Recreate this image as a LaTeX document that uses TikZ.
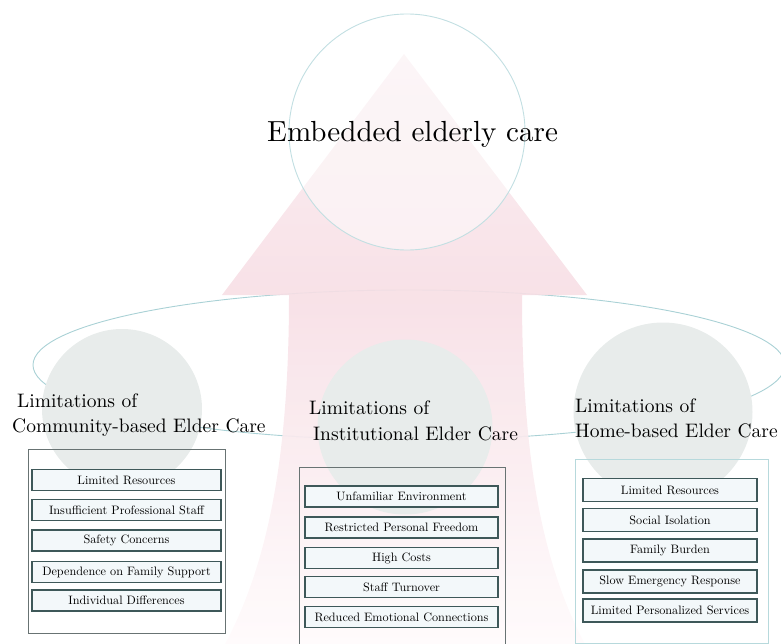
\documentclass[tikz,border=0pt]{standalone}
\usepackage{fontspec}
\usepackage{graphicx}
\usetikzlibrary{shapes.geometric}
\definecolor{ringc}{HTML}{A9D1D5}
\definecolor{bigringc}{HTML}{C2DFE2}
\definecolor{grayc}{HTML}{E8ECEB}
\definecolor{innerfill}{HTML}{F3F8FA}
\definecolor{innerdraw}{HTML}{3E5859}
\definecolor{outerdraw}{HTML}{687373}
\definecolor{outerlight}{HTML}{B7D9DC}
\definecolor{atop}{HTML}{FAEEF1}
\definecolor{amid}{HTML}{F7DFE5}
\definecolor{abot}{HTML}{FFFBFC}
\pgfdeclareverticalshading{arrowshade}{100bp}{color(0bp)=(abot); color(25bp)=(abot); color(54.5bp)=(amid); color(75bp)=(atop); color(100bp)=(atop)}
\newcommand\mytitle[1]{\scalebox{1.95}{\fontsize{10}{12}\selectfont #1}}
\newcommand\mymain[1]{\scalebox{2.91}{\fontsize{10}{12}\selectfont #1}}
\newcommand\myitem[1]{\scalebox{1.22}{\fontsize{10}{12}\selectfont #1}}
\begin{document}
\begin{tikzpicture}[x=1pt,y=-1pt,
  graycirc/.style={circle, fill=grayc, inner sep=0pt, minimum size=#1},
  itembox/.style={draw=innerdraw, line width=1.3pt, fill=innerfill, inner sep=0pt,
     minimum height=#1},
  itembox/.default=21pt,
  outerbox/.style={draw=outerdraw, line width=0.9pt, inner sep=0pt},
  title/.style={anchor=base west, inner sep=0pt}]
\useasboundingbox (0,0) rectangle (781,644);
% orbit ellipse
\node[ellipse, draw=ringc, line width=0.9pt, minimum width=752pt, minimum height=150pt, inner sep=0pt] (orbit) at (409,365) {};
% arrow
\path[shading=arrowshade, opacity=0.92] (404,54) -- (587,295) -- (522,295)
  .. controls (522,450) and (540,560) .. (585,644) -- (225,644)
  .. controls (270,560) and (289,450) .. (289,295) -- (222,295) -- cycle;
% big circle
\node[circle, draw=bigringc, line width=0.9pt, fill=white, fill opacity=0.45, draw opacity=1, minimum size=236pt, inner sep=0pt] (top) at (407,132) {};
% gray circles
\node[graycirc=160pt] (gl) at (122,409) {};
\node[graycirc=175pt] (gm) at (405,427) {};
\node[graycirc=179pt] (gr) at (663,412) {};
% main title
\node[anchor=base west, inner sep=0pt] (main) at (267,142) {\mymain{Embedded elderly care}};
% titles
\node[title] (tl1) at (17,407) {\mytitle{Limitations of}};
\node[title] (tl2) at (12,432) {\mytitle{Community-based Elder Care}};
\node[title] (tm1) at (309,414) {\mytitle{Limitations of}};
\node[title] (tm2) at (313,440) {\mytitle{Institutional Elder Care}};
\node[title] (tr1) at (575,412) {\mytitle{Limitations of}};
\node[title] (tr2) at (575,437) {\mytitle{Home-based Elder Care}};
% outer boxes
\node[outerbox, minimum width=197pt, minimum height=184pt] (ol) at (126.5,541) {};
\node[outerbox, minimum width=206pt, minimum height=183pt] (om) at (402,558.5) {};
\node[outerbox, draw=outerlight, minimum width=193pt, minimum height=184pt] (or) at (671.5,551) {};
% left items
\node[itembox, minimum width=189pt] (l1) at (126.5,480) {\myitem{Limited Resources}};
\node[itembox, minimum width=189pt] (l2) at (126.5,510) {\myitem{Insufficient Professional Staff}};
\node[itembox, minimum width=189pt] (l3) at (126.5,540.5) {\myitem{Safety Concerns}};
\node[itembox, minimum width=189pt] (l4) at (126.5,572) {\myitem{Dependence on Family Support}};
\node[itembox, minimum width=189pt] (l5) at (126.5,600.5) {\myitem{Individual Differences}};
% middle items
\node[itembox, minimum width=193pt] (m1) at (401.5,496.5) {\myitem{Unfamiliar Environment}};
\node[itembox, minimum width=193pt] (m2) at (401.5,527.5) {\myitem{Restricted Personal Freedom}};
\node[itembox, minimum width=193pt] (m3) at (401.5,558) {\myitem{High Costs}};
\node[itembox, minimum width=193pt] (m4) at (401.5,587) {\myitem{Staff Turnover}};
\node[itembox, minimum width=193pt] (m5) at (401.5,617) {\myitem{Reduced Emotional Connections}};
% right items
\node[itembox=23pt, minimum width=174pt] (r1) at (670,490) {\myitem{Limited Resources}};
\node[itembox=23pt, minimum width=174pt] (r2) at (670,520) {\myitem{Social Isolation}};
\node[itembox=23pt, minimum width=174pt] (r3) at (670,550.5) {\myitem{Family Burden}};
\node[itembox=23pt, minimum width=174pt] (r4) at (670,581.5) {\myitem{Slow Emergency Response}};
\node[itembox=23pt, minimum width=174pt] (r5) at (670,610.5) {\myitem{Limited Personalized Services}};
\end{tikzpicture}
\end{document}
